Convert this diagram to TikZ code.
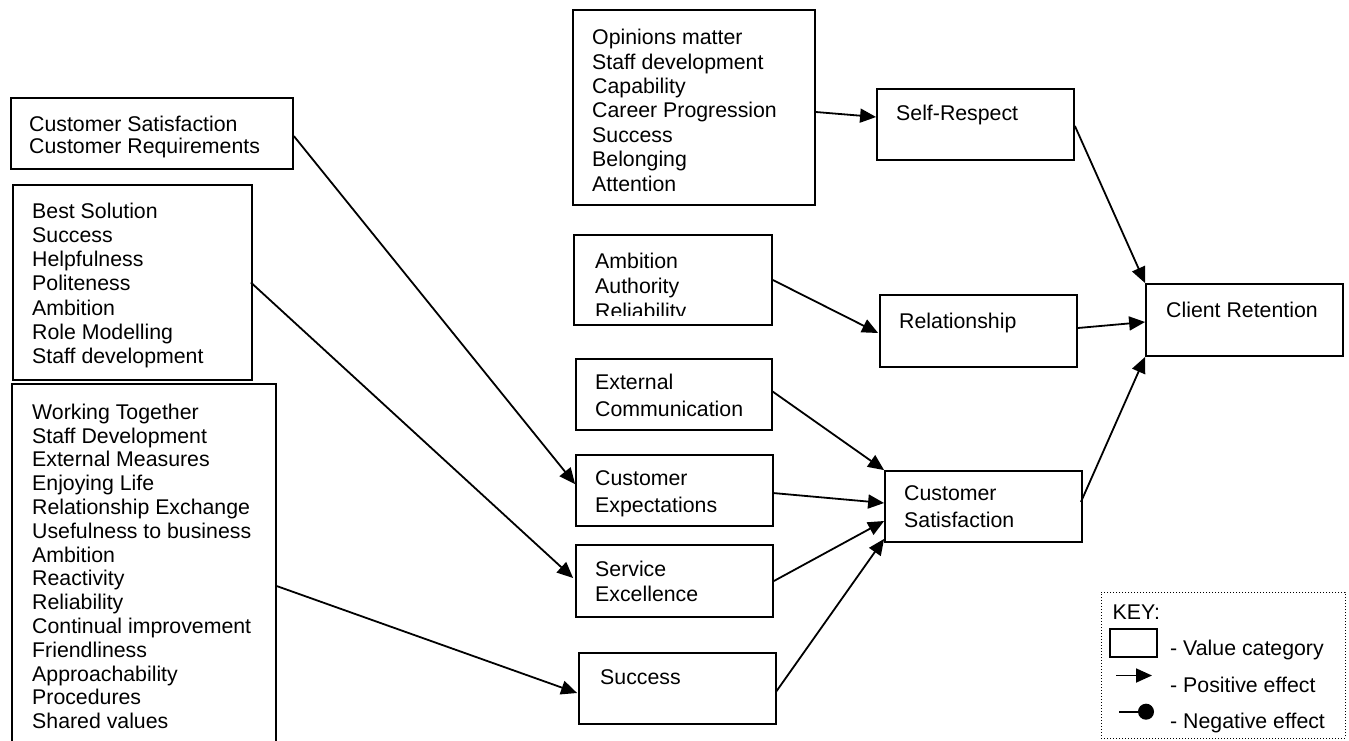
\documentclass[tikz,border=0pt]{standalone}
\usepackage{fontspec}
\setmainfont{Liberation Sans}
\usetikzlibrary{arrows.meta}
\tikzset{
  vbox/.style={draw, line width=1.8pt, rectangle, inner sep=0pt},
  txt/.style={anchor=north west, inner sep=0pt, align=left, font=\fontsize{21.3pt}{24pt}\selectfont},
  conn/.style={line width=1.8pt, -{Triangle[length=16pt,width=14pt]}},
  negconn/.style={line width=1.8pt, -{Circle[length=16pt]}},
}
\newcommand{\fs}[1]{\fontsize{21.3pt}{#1pt}\selectfont}
\begin{document}
\begin{tikzpicture}[x=1pt,y=-1pt]
\useasboundingbox (0,0) rectangle (1349,740);
\clip (0,0) rectangle (1349,740);
\fill[white] (0,0) rectangle (1349,740);

% boxes
\node[vbox, minimum width=282pt, minimum height=71pt] (A) at (152,133.5) {};
\node[vbox, minimum width=239pt, minimum height=195pt] (B) at (132.5,282.5) {};
\node[vbox, minimum width=264pt, minimum height=416pt] (C) at (144,592) {};
\node[vbox, minimum width=242pt, minimum height=195pt] (D) at (694,107.5) {};
\node[vbox, minimum width=197pt, minimum height=71pt] (SR) at (975.5,124.5) {};
\node[vbox, minimum width=198pt, minimum height=90pt] (E) at (673,280) {};
\node[vbox, minimum width=197pt, minimum height=72pt] (REL) at (978.5,331) {};
\node[vbox, minimum width=197pt, minimum height=72pt] (CR) at (1244.5,320) {};
\node[vbox, minimum width=196pt, minimum height=71pt] (EC) at (674,394.5) {};
\node[vbox, minimum width=197pt, minimum height=71pt] (CE) at (674.5,490.5) {};
\node[vbox, minimum width=197pt, minimum height=72pt] (SE) at (674.5,581) {};
\node[vbox, minimum width=197pt, minimum height=71pt] (SU) at (677.5,688.5) {};
\node[vbox, minimum width=197pt, minimum height=71pt] (CS) at (983.5,506.5) {};

% texts
\node[txt, font=\fs{22.3}] (tA) at (29,115.7) {Customer Satisfaction\\Customer Requirements};
\node[txt, font=\fs{24.3}] (tB) at (32,202.4) {Best Solution\\Success\\Helpfulness\\Politeness\\Ambition\\Role Modelling\\Staff development};
\node[txt, font=\fs{23.8}] (tC) at (32,403.7) {Working Together\\Staff Development\\External Measures\\Enjoying Life\\Relationship Exchange\\Usefulness to business\\Ambition\\Reactivity\\Reliability\\Continual improvement\\Friendliness\\Approachability\\Procedures\\Shared values};
\node[txt, font=\fs{24.4}] (tD) at (592,29) {Opinions matter\\Staff development\\Capability\\Career Progression\\Success\\Belonging\\Attention};
\begin{scope}
\clip (574,234) rectangle (772,315);
\node[txt, font=\fs{25}] (tE) at (595,252.4) {Ambition\\Authority\\Reliability};
\end{scope}
\node[txt] (tSR) at (896,104.7) {Self-Respect};
\node[txt] (tREL) at (899,312.7) {Relationship};
\node[txt] (tCR) at (1166,301.7) {Client Retention};
\node[txt, font=\fs{27.3}] (tEC) at (595,373.7) {External\\Communication};
\node[txt, font=\fs{26.7}] (tCE) at (595,470.7) {Customer\\Expectations};
\node[txt, font=\fs{25}] (tSE) at (595,560.7) {Service\\Excellence};
\node[txt] (tSU) at (600,669.7) {Success};
\node[txt, font=\fs{27}] (tCS) at (904,485.7) {Customer\\Satisfaction};

% connectors
\draw[conn] ([yshift=-39pt]A.north east) -- ([yshift=-30pt]CE.north west);
\draw[conn] ([xshift=-2pt]B.east) -- ([yshift=3pt,xshift=-2pt]SE.west);
\draw[conn] ([yshift=-203pt]C.north east) -- ([yshift=-4.5pt,xshift=-1pt]SU.west);
\draw[conn] ([yshift=-4.5pt]D.east) -- ([yshift=7.5pt]SR.west);
\draw[conn] (E.east) -- ([yshift=-2pt,xshift=-1pt]REL.west);
\draw[conn] ([yshift=-1.5pt]SR.east) -- (CR.north west);
\draw[conn] ([yshift=3pt]REL.east) -- ([yshift=-2pt]CR.west);
\draw[conn] ([yshift=4.5pt,xshift=-2pt]CS.east) -- (CR.south west);
\draw[conn] ([yshift=3.5pt,xshift=-1pt]EC.east) -- (CS.north west);
\draw[conn] ([yshift=-2.5pt,xshift=-1pt]CE.east) -- ([yshift=3.5pt]CS.west);
\draw[conn] (SE.east) -- ([yshift=-14.5pt]CS.west);
\draw[conn] ([yshift=-3.5pt,xshift=-1pt]SU.east) -- ([yshift=4pt]CS.south west);

% key
\node[draw, dotted, line width=1pt, minimum width=244pt, minimum height=146pt, inner sep=0pt] (KEY) at (1223,665) {};
\node[txt] (tKEY) at (1112.5,604.7) {KEY:};
\node[vbox, minimum width=47pt, minimum height=28pt] (kbox) at (1133.5,643) {};
\node[txt] (tk1) at (1170,639.7) {- Value category};
\coordinate (kp1) at (1116,675.5);
\coordinate (kp2) at (1152,675.5);
\draw[conn] (kp1) -- (kp2);
\node[txt] (tk2) at (1170,676.4) {- Positive effect};
\coordinate (kn1) at (1119,711.7);
\coordinate (kn2) at (1154,711.7);
\draw[negconn] (kn1) -- (kn2);
\node[txt] (tk3) at (1170,713) {- Negative effect};
\end{tikzpicture}
\end{document}
